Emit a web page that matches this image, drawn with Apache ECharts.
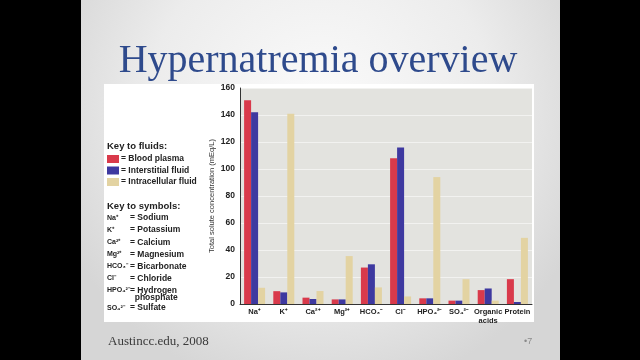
<!DOCTYPE html>
<html><head><meta charset="utf-8">
<script src="https://cdn.jsdelivr.net/npm/echarts@6/dist/echarts.min.js"></script>
<style>html,body{margin:0;padding:0;background:#000}#c{width:640px;height:360px}</style>
</head><body><div id="c"></div>
<script>
const categories = ['Na⁺','K⁺','Ca²⁺','Mg²⁺','HCO₃⁻','Cl⁻','HPO₄²⁻','SO₄²⁻','Organic\nacids','Protein'];
const bloodPlasma = [151, 9.5, 4.7, 3.4, 27, 108, 4.2, 2.5, 10.3, 18.4];
const interstitialFluid = [142, 8.6, 3.7, 3.4, 29.4, 116, 4.2, 2.5, 11.5, 1.5];
const intracellularFluid = [12, 141, 9.6, 35.5, 12.3, 5.6, 94, 18.4, 2.5, 49];
const seriesNames = ['Blood plasma','Interstitial fluid','Intracellular fluid'];
const yTicks = [0,20,40,60,80,100,120,140,160];
const symbolKeys = ['Na⁺','K⁺','Ca²⁺','Mg²⁺','HCO₃⁻','Cl⁻','HPO₄²⁻','','SO₄²⁻'];
const symbolNames = ['= Sodium','= Potassium','= Calcium','= Magnesium','= Bicarbonate','= Chloride','= Hydrogen','  phosphate','= Sulfate'];
const colors = ['#d93a4b','#3e39a0','#e3d3a2'];

const chart = echarts.init(document.getElementById('c'), null, {renderer:'canvas'});
const keyFont = 'bold 8.5px "Liberation Sans", Arial, sans-serif';
const symFont = 'bold 7px "Liberation Sans", Arial, sans-serif';
const headFont = 'bold 9.5px "Liberation Sans", Arial, sans-serif';
const graphics = [
  {type:'rect', z:-10, shape:{x:0,y:0,width:640,height:360}, style:{fill:'#000'}},
  {type:'rect', z:-9, shape:{x:81,y:0,width:479,height:360},
   style:{fill:{type:'radial',x:0.5,y:0.3,r:0.8,colorStops:[{offset:0,color:'#fbfbfb'},{offset:0.6,color:'#ececec'},{offset:1,color:'#d6d6d6'}]}}},
  {type:'rect', z:-8, shape:{x:104,y:84,width:430,height:238}, style:{fill:'#ffffff'}},
  {type:'text', z:5, style:{x:318,y:61,text:'Hypernatremia overview',fill:'#2e4a8c',font:'40px "Liberation Serif", "DejaVu Serif", serif',align:'center',verticalAlign:'middle'}},
  {type:'text', z:5, style:{x:108,y:342,text:'Austincc.edu, 2008',fill:'#3a3a3a',font:'13px "Liberation Serif", serif',verticalAlign:'middle'}},
  {type:'text', z:5, style:{x:524,y:342,text:'•7',fill:'#8a8a8a',font:'9px "Liberation Sans", sans-serif',verticalAlign:'middle'}},
  {type:'text', z:5, style:{x:107,y:146,text:'Key to fluids:',fill:'#222',font:headFont,verticalAlign:'middle'}},
  {type:'text', z:5, style:{x:107,y:206,text:'Key to symbols:',fill:'#222',font:headFont,verticalAlign:'middle'}}
];
const fluidY = [159,170.5,182];
seriesNames.forEach((n,i)=>{
  graphics.push({type:'rect', z:5, shape:{x:107,y:fluidY[i]-4,width:12,height:8}, style:{fill:colors[i]}});
  graphics.push({type:'text', z:5, style:{x:121,y:fluidY[i],text:'= '+n,fill:'#222',font:keyFont,verticalAlign:'middle'}});
});
const symY = [218,230,242.5,254.5,266.5,278.5,290.5,297.5,308];
symbolKeys.forEach((k,i)=>{
  if(k) graphics.push({type:'text', z:5, style:{x:107,y:symY[i],text:k,fill:'#222',font:symFont,verticalAlign:'middle'}});
  graphics.push({type:'text', z:5, style:{x:130,y:symY[i],text:symbolNames[i],fill:'#222',font:keyFont,verticalAlign:'middle'}});
});

const option = {
  animation:false,
  backgroundColor:'transparent',
  graphic: graphics,
  grid:{left:240,right:108,top:88,bottom:56,show:true,backgroundColor:'#e3e3df',borderWidth:0,containLabel:false},
  xAxis:{type:'category',data:categories,
    axisLine:{show:true,lineStyle:{color:'#333',width:1}},
    axisTick:{show:false},
    axisLabel:{color:'#222',fontSize:7.5,fontWeight:'bold',fontFamily:'"Liberation Sans", Arial, sans-serif',margin:4,interval:0,lineHeight:8.5}},
  yAxis:{type:'value',min:0,max:160,interval:20,
    name:'Total solute concentration (mEq/L)',nameLocation:'middle',nameGap:24,
    nameTextStyle:{color:'#333',fontSize:7.5,fontFamily:'"Liberation Sans", Arial, sans-serif'},
    axisLine:{show:true,lineStyle:{color:'#333',width:1}},
    axisTick:{show:false},
    axisLabel:{color:'#222',fontSize:8.5,fontWeight:'bold',fontFamily:'"Liberation Sans", Arial, sans-serif',margin:5,
      formatter:v=>yTicks.includes(v)?String(v):''},
    splitLine:{show:true,lineStyle:{color:'#f2f2f0',width:1}}},
  series:[
    {name:seriesNames[0],type:'bar',data:bloodPlasma,itemStyle:{color:colors[0]},barWidth:7,barGap:'0%',barCategoryGap:'27%'},
    {name:seriesNames[1],type:'bar',data:interstitialFluid,itemStyle:{color:colors[1]},barWidth:7,barGap:'0%'},
    {name:seriesNames[2],type:'bar',data:intracellularFluid,itemStyle:{color:colors[2]},barWidth:7,barGap:'0%'}
  ]
};
chart.setOption(option);
</script></body></html>
